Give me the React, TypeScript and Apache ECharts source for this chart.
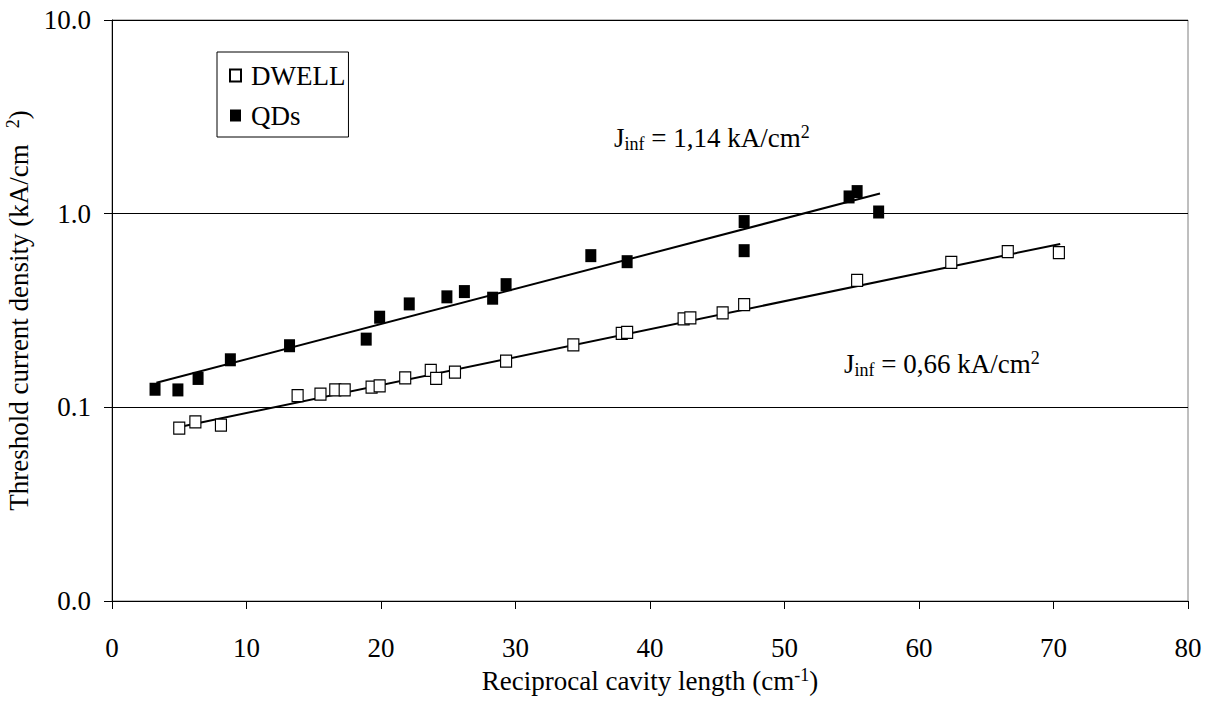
import React, { useEffect, useRef } from "react";
import * as echarts from "echarts";

const FONT = "Liberation Serif, Times New Roman, serif";

// QDs (filled squares): [reciprocal cavity length, threshold current density]
const qdsX = [3.2, 4.9, 6.4, 8.8, 13.2, 18.9, 19.9, 22.1, 24.9, 26.2, 28.3, 29.3, 35.6, 38.3, 47.0, 47.0, 54.8, 55.4, 57.0];
const qdsY = [0.124, 0.123, 0.141, 0.176, 0.208, 0.225, 0.292, 0.342, 0.372, 0.396, 0.366, 0.43, 0.607, 0.565, 0.91, 0.644, 1.22, 1.30, 1.02];

// DWELL (open squares)
const dwellX = [5.0, 6.2, 8.1, 13.8, 15.5, 16.6, 17.3, 19.3, 19.9, 21.8, 23.7, 24.1, 25.5, 29.3, 34.3, 37.9, 38.3, 42.5, 43.0, 45.4, 47.0, 55.4, 62.4, 66.6, 70.4];
const dwellY = [0.078, 0.084, 0.081, 0.115, 0.117, 0.123, 0.123, 0.127, 0.129, 0.142, 0.155, 0.141, 0.152, 0.173, 0.21, 0.241, 0.244, 0.286, 0.29, 0.307, 0.339, 0.453, 0.561, 0.637, 0.63];

// Exponential fit lines (end points)
const qdsFitX = [3.3, 57.1];
const qdsFitY = [0.134, 1.27];
const dwellFitX = [5.1, 70.5];
const dwellFitY = [0.0794, 0.698];

const xTicks = { min: 0, max: 80, interval: 10 };
const yRange = { min: 0.01, max: 10 };

const seriesNames = ["DWELL", "QDs"];
const annotationTexts = ["= 1,14 kA/cm", "= 0,66 kA/cm"];

const zip = (xs: number[], ys: number[]) => xs.map((x, i) => [x, ys[i]]);

export default function App() {
  const ref = useRef<HTMLDivElement>(null);
  useEffect(() => {
    document.body.style.margin = "0";
    const chart = echarts.init(ref.current!, undefined, { renderer: "svg" });
    const supRich = {
      n: { fontSize: 27, fontFamily: FONT, color: "#000", lineHeight: 30 },
      sup: { fontSize: 18, fontFamily: FONT, color: "#000", verticalAlign: "top", lineHeight: 30 },
      sub: { fontSize: 18, fontFamily: FONT, color: "#000", verticalAlign: "bottom", lineHeight: 30 },
      supgap: { fontSize: 18, fontFamily: FONT, color: "#000", verticalAlign: "top", lineHeight: 30, padding: [0, 0, 0, 16] },
    };
    chart.setOption({
      animation: false,
      backgroundColor: "#fff",
      textStyle: { fontFamily: FONT, color: "#000" },
      grid: {
        left: 112,
        right: 28,
        top: 20,
        bottom: 112,
        containLabel: false,
        outerBoundsMode: "none",
        show: true,
        borderColor: "#7f7f7f",
        borderWidth: 1,
      },
      legend: {
        orient: "vertical",
        left: 217,
        top: 52,
        data: seriesNames,
        backgroundColor: "#fff",
        borderColor: "#000",
        borderWidth: 1,
        borderRadius: 0,
        padding: [10, 3, 8, 12],
        itemWidth: 11,
        itemHeight: 12,
        itemGap: 13,
        textStyle: { fontSize: 27, fontFamily: FONT, color: "#000", padding: [0, 0, 0, 5] },
      },
      xAxis: {
        type: "value",
        min: xTicks.min,
        max: xTicks.max,
        interval: xTicks.interval,
        name: "{n|Reciprocal cavity length (cm}{sup|-1}{n|)}",
        nameLocation: "middle",
        nameGap: 64,
        nameTextStyle: { fontFamily: FONT, rich: supRich },
        axisLine: { lineStyle: { color: "#000", width: 1 } },
        axisTick: { show: true, inside: false, length: 8, lineStyle: { color: "#000" } },
        axisLabel: { fontSize: 27, fontFamily: FONT, color: "#000", margin: 33 },
        splitLine: { show: false },
      },
      yAxis: {
        type: "log",
        logBase: 10,
        min: yRange.min,
        max: yRange.max,
        name: "{n|Threshold current density (kA/cm}{supgap|2}{n|)}",
        nameLocation: "middle",
        nameGap: 70,
        nameRotate: 90,
        nameTextStyle: { fontFamily: FONT, rich: supRich },
        axisLine: { show: true, lineStyle: { color: "#000", width: 1 } },
        axisTick: { show: true, inside: false, length: 8, lineStyle: { color: "#000" } },
        minorTick: { show: false },
        axisLabel: {
          fontSize: 27,
          fontFamily: FONT,
          color: "#000",
          margin: 21,
          formatter: (v: number) => v.toFixed(1),
        },
        splitLine: { show: true, lineStyle: { color: "#000", width: 1 } },
      },
      series: [
        {
          name: "DWELL fit",
          type: "line",
          data: zip(dwellFitX, dwellFitY),
          showSymbol: false,
          symbol: "none",
          lineStyle: { color: "#000", width: 2 },
          z: 2,
        },
        {
          name: "QDs fit",
          type: "line",
          data: zip(qdsFitX, qdsFitY),
          showSymbol: false,
          symbol: "none",
          lineStyle: { color: "#000", width: 2 },
          z: 2,
        },
        {
          name: seriesNames[0],
          type: "scatter",
          data: zip(dwellX, dwellY),
          symbol: "rect",
          symbolSize: [11, 12],
          itemStyle: { color: "#fff", borderColor: "#000", borderWidth: 1.2, opacity: 1 },
          z: 3,
        },
        {
          name: seriesNames[1],
          type: "scatter",
          data: zip(qdsX, qdsY),
          symbol: "rect",
          symbolSize: [11, 13],
          itemStyle: { color: "#000", borderColor: "#000", borderWidth: 0, opacity: 1 },
          z: 3,
        },
      ],
      graphic: [
        {
          type: "text",
          left: 614,
          top: 123,
          style: {
            text: "{n|J}{sub|inf}{n| " + annotationTexts[0] + "}{sup|2}",
            fontFamily: FONT,
            rich: supRich,
          },
        },
        {
          type: "text",
          left: 844,
          top: 349,
          style: {
            text: "{n|J}{sub|inf}{n| " + annotationTexts[1] + "}{sup|2}",
            fontFamily: FONT,
            rich: supRich,
          },
        },
      ],
    });
    return () => chart.dispose();
  }, []);
  return <div ref={ref} style={{ position: "absolute", left: 0, top: 0, width: 1216, height: 713 }} />;
}
